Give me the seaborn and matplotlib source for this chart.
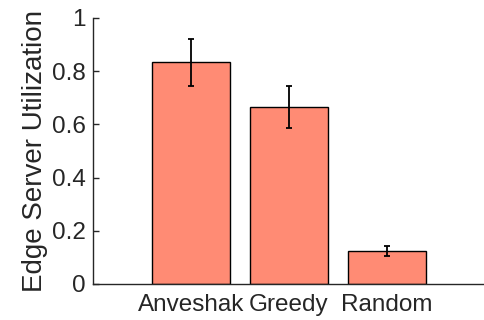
import numpy as np
import pandas as pd
import seaborn as sns
import matplotlib.pyplot as plt

# data
methods = ["Anveshak", "Greedy", "Random"]
utilization = [0.833, 0.666, 0.123]
errors = [0.088, 0.078, 0.019]
yticks = [0, 0.2, 0.4, 0.6, 0.8, 1]
ytick_labels = ["0", "0.2", "0.4", "0.6", "0.8", "1"]

df = pd.DataFrame({"method": methods, "util": utilization})

sns.set_style("white")
plt.rcParams["font.family"] = ["Liberation Sans", "DejaVu Sans"]

fig = plt.figure(figsize=(4.84, 3.2), dpi=100)
ax = fig.add_axes([0.192, 0.1125, 0.81, 0.8315])

sns.barplot(data=df, x="method", y="util", color="#FF8B74", saturation=1,
            edgecolor="black", linewidth=1.0, width=0.8, errorbar=None, ax=ax)
ax.errorbar(np.arange(len(methods)), utilization, yerr=errors, fmt="none",
            ecolor="black", elinewidth=1.3, capsize=2, capthick=1.3)

ax.set_xlim(-1, 3)
ax.set_ylim(0, 1)
ax.set_yticks(yticks)
ax.set_yticklabels(ytick_labels)
ax.set_xlabel("")
ax.set_ylabel("Edge Server Utilization", fontsize=20, color="#262626", labelpad=3)
ax.tick_params(axis="y", direction="in", length=4, width=1, labelsize=17.5,
               colors="#262626", left=True, pad=5)
ax.tick_params(axis="x", length=0, labelsize=17.5, colors="#262626", pad=7)
for s in ["top", "right"]:
    ax.spines[s].set_visible(False)
for s in ["left", "bottom"]:
    ax.spines[s].set_color("#262626")
    ax.spines[s].set_linewidth(1.0)

fig.savefig("out.png", dpi=100)
